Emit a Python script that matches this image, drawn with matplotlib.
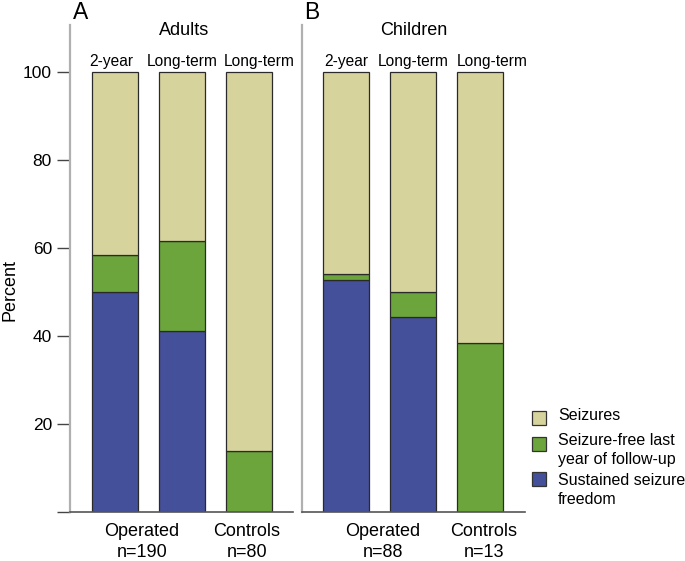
import matplotlib
matplotlib.use("Agg")
import matplotlib.pyplot as plt
from matplotlib.patches import Rectangle

plt.rcParams['font.family'] = ['Liberation Sans', 'DejaVu Sans']

# data (percent)
bar_labels = ["2-year", "Long-term", "Long-term"]
adults_sustained = [50.0, 41.1, 0.0]
adults_lastyear = [8.5, 20.5, 13.8]
adults_seizures = [41.5, 38.4, 86.2]
children_sustained = [52.8, 44.3, 0.0]
children_lastyear = [1.3, 5.7, 38.5]
children_seizures = [45.9, 50.0, 61.5]
adults_groups = ["Operated\nn=190", "Controls\nn=80"]
children_groups = ["Operated\nn=88", "Controls\nn=13"]
legend_labels = ["Seizures", "Seizure-free last\nyear of follow-up",
                 "Sustained seizure\nfreedom"]

c_seiz = "#D7D39D"
c_free = "#6BA53B"
c_sust = "#45509A"
edge = "#2a2a2a"

W, H = 685, 561
fig = plt.figure(figsize=(6.85, 5.61), dpi=100)

# axes placed in pixel units
ax1 = fig.add_axes([70 / W, 49 / H, 223 / W, 487 / H])
ax2 = fig.add_axes([302 / W, 49 / H, 223 / W, 487 / H])

ymax = 487 / 4.4
x = [0, 1, 2]
bw = 46 / 67


def draw_panel(ax, sust, free, seiz, title, title_x, letter, groups, group_x, top_x):
    ax.bar(x, sust, bw, color=c_sust, edgecolor=edge, linewidth=0.9)
    ax.bar(x, free, bw, bottom=sust, color=c_free, edgecolor=edge, linewidth=0.9)
    bottoms = [s + f for s, f in zip(sust, free)]
    ax.bar(x, seiz, bw, bottom=bottoms, color=c_seiz, edgecolor=edge, linewidth=0.9)
    ax.set_ylim(0, ymax)
    for s in ["top", "right"]:
        ax.spines[s].set_visible(False)
    ax.spines["left"].set_color("#b0b0b0")
    ax.spines["left"].set_linewidth(1.6)
    ax.spines["bottom"].set_color("#555555")
    ax.spines["bottom"].set_linewidth(1.2)
    ax.set_xticks([])
    # labels over bars
    for xi, lab in zip(top_x, bar_labels):
        ax.text(xi, 102.5, lab, ha="center", va="center", fontsize=11.2)
    ax.text(title_x, 109.5, title, ha="center", va="center", fontsize=13)
    ax.text(letter[1], 113.6, letter[0], ha="left", va="center", fontsize=16.5)
    for gx, g in zip(group_x, groups):
        ax.text(gx, -6.9, g, ha="center", va="center", fontsize=13, linespacing=1.3)


draw_panel(ax1, adults_sustained, adults_lastyear, adults_seizures, "Adults", 1.03,
           ("A", -0.63), adults_groups, [0.4, 1.97], [-0.06, 1, 2.15])
ax1.set_xlim(-0.672, 2.657)

draw_panel(ax2, children_sustained, children_lastyear, children_seizures, "Children", 1.01,
           ("B", -0.63), children_groups, [0.55, 2.06], [0, 1, 2.18])
ax2.set_xlim(-0.657, 2.672)

ax1.set_yticks([0, 20, 40, 60, 80, 100])
ax1.set_yticklabels(["", "20", "40", "60", "80", "100"])
ax1.tick_params(axis="y", length=9.4, width=1.0, color="#444444", pad=3.6,
                labelsize=12.5)
ax2.set_yticks([])

fig.text(10 / W, 1 - 290 / H, "Percent", rotation=90, ha="center", va="center",
         fontsize=13)

# legend drawn in pixel positions
leg_colors = [c_seiz, c_free, c_sust]
sq_tops = [411, 437, 472]
txt_y = [416, 450, 490]
for col, top, ty, lab in zip(leg_colors, sq_tops, txt_y, legend_labels):
    fig.patches.append(Rectangle((532 / W, 1 - (top + 14) / H), 14 / W, 14 / H,
                                 facecolor=col, edgecolor="#333333", linewidth=0.9,
                                 transform=fig.transFigure, figure=fig))
    fig.text(558 / W, 1 - ty / H, lab, ha="left", va="center", fontsize=11.5,
             linespacing=1.3)

fig.savefig("out.png", dpi=100)
